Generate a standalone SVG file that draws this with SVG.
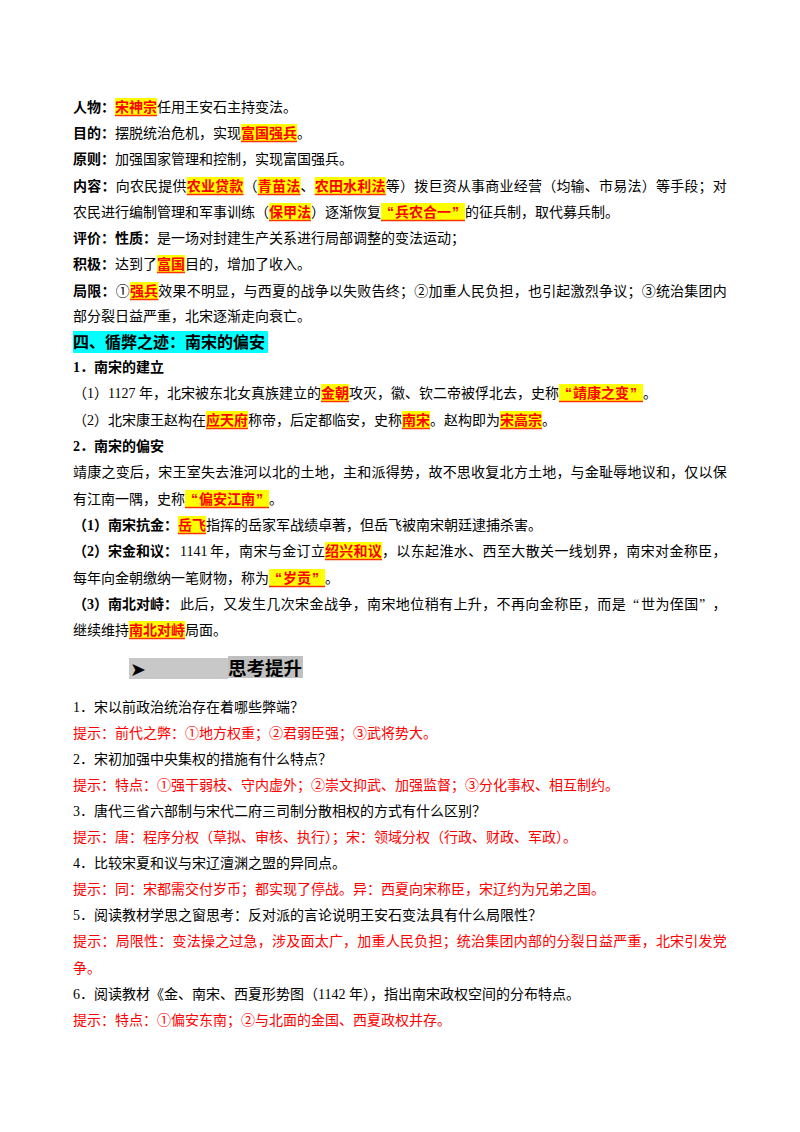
<svg xmlns="http://www.w3.org/2000/svg" width="800" height="1132" viewBox="0 0 800 1132">
<style>
text{font-family:"Liberation Serif","Noto Sans CJK SC",serif;font-size:14px;fill:#000}
.b{font-family:"Liberation Serif","Noto Sans CJK SC",sans-serif;font-weight:bold}
.h{fill:#FF0000;font-weight:bold;font-family:"Liberation Sans","Noto Sans CJK SC",sans-serif}
.r{fill:#FF0000}
.hb{fill:#FFFF00}
.ul{stroke:#FF3300;stroke-width:1.5}
.j1{letter-spacing:0.217px}
</style>
<rect width="800" height="1132" fill="#FFFFFF"/>

<g id="reform">
<!-- L1 -->
<rect class="hb" x="115" y="98" width="42" height="17"/><line class="ul" x1="115" y1="115.5" x2="157" y2="115.5"/>
<text y="112"><tspan class="b" x="73">人物：</tspan><tspan class="h" x="115">宋神宗</tspan><tspan x="157">任用王安石主持变法。</tspan></text>
<!-- L2 -->
<rect class="hb" x="241" y="124" width="56" height="17"/><line class="ul" x1="241" y1="141.5" x2="297" y2="141.5"/>
<text y="138"><tspan class="b" x="73">目的：</tspan><tspan x="115">摆脱统治危机，实现</tspan><tspan class="h" x="241">富国强兵</tspan><tspan x="297">。</tspan></text>
<!-- L3 -->
<text y="164"><tspan class="b" x="73">原则：</tspan><tspan x="115">加强国家管理和控制，实现富国强兵。</tspan></text>
<!-- L4 -->
<rect class="hb" x="186.7" y="177" width="56.9" height="17"/><line class="ul" x1="186.7" y1="194.5" x2="243.6" y2="194.5"/>
<rect class="hb" x="257.8" y="177" width="42.7" height="17"/><line class="ul" x1="257.8" y1="194.5" x2="300.5" y2="194.5"/>
<rect class="hb" x="314.7" y="177" width="71.1" height="17"/><line class="ul" x1="314.7" y1="194.5" x2="385.8" y2="194.5"/>
<text y="191" class="j1"><tspan class="b" x="73">内容：</tspan><tspan x="115.7">向农民提供</tspan><tspan class="h" x="186.7">农业贷款</tspan><tspan x="243.6">（</tspan><tspan class="h" x="257.8">青苗法</tspan><tspan x="300.5">、</tspan><tspan class="h" x="314.7">农田水利法</tspan><tspan x="385.8">等）拨巨资从事商业经营（均输、市易法）等手段；对</tspan></text>
<!-- L5 -->
<rect class="hb" x="269" y="203" width="42" height="17"/><line class="ul" x1="269" y1="220.5" x2="311" y2="220.5"/>
<rect class="hb" x="381" y="203" width="84" height="17"/><line class="ul" x1="381" y1="220.5" x2="465" y2="220.5"/>
<text y="217"><tspan x="73">农民进行编制管理和军事训练（</tspan><tspan class="h" x="269">保甲法</tspan><tspan x="311">）逐渐恢复</tspan><tspan class="h" x="387">“</tspan><tspan class="h" x="395">兵农合一</tspan><tspan class="h" x="452">”</tspan><tspan x="465">的征兵制，取代募兵制。</tspan></text>
<!-- L6 -->
<text y="243"><tspan class="b" x="73">评价：</tspan><tspan class="b" x="115">性质：</tspan><tspan x="157">是一场对封建生产关系进行局部调整的变法运动；</tspan></text>
<!-- L7 -->
<rect class="hb" x="157" y="255" width="28" height="17"/><line class="ul" x1="157" y1="272.5" x2="185" y2="272.5"/>
<text y="269"><tspan class="b" x="73">积极：</tspan><tspan x="115">达到了</tspan><tspan class="h" x="157">富国</tspan><tspan x="185">目的，增加了收入。</tspan></text>
<!-- L8 -->
<rect class="hb" x="129.9" y="282" width="28.4" height="17"/><line class="ul" x1="129.9" y1="299.5" x2="158.3" y2="299.5"/>
<text y="296" class="j1"><tspan class="b" x="73">局限：</tspan><tspan x="115.7">①</tspan><tspan class="h" x="129.9">强兵</tspan><tspan x="158.3">效果不明显，与西夏的战争以失败告终；②加重人民负担，也引起激烈争议；③统治集团内</tspan></text>
<!-- L9 -->
<text y="321" x="73">部分裂日益严重，北宋逐渐走向衰亡。</text>
</g>

<g id="section4">
<rect x="73" y="331" width="195" height="22" fill="#00FFFF"/>
<text class="b" x="73" y="348" style="font-size:16px">四、循弊之迹：南宋的偏安</text>
<text y="372" class="b"><tspan x="73">1</tspan><tspan x="80">．南宋的建立</tspan></text>
<!-- L12 -->
<rect class="hb" x="321" y="384" width="28" height="17"/><line class="ul" x1="321" y1="401.5" x2="349" y2="401.5"/>
<rect class="hb" x="559" y="384" width="84" height="17"/><line class="ul" x1="559" y1="401.5" x2="643" y2="401.5"/>
<text y="398"><tspan x="73">（</tspan><tspan x="87">1</tspan><tspan x="94">）</tspan><tspan x="108">1127</tspan><tspan x="139">年，北宋被东北女真族建立的</tspan><tspan class="h" x="321">金朝</tspan><tspan x="349">攻灭，徽、钦二帝被俘北去，史称</tspan><tspan class="h" x="565">“</tspan><tspan class="h" x="573">靖康之变</tspan><tspan class="h" x="630">”</tspan><tspan x="643">。</tspan></text>
<!-- L13 -->
<rect class="hb" x="206" y="411" width="42" height="17"/><line class="ul" x1="206" y1="428.5" x2="248" y2="428.5"/>
<rect class="hb" x="402" y="411" width="28" height="17"/><line class="ul" x1="402" y1="428.5" x2="430" y2="428.5"/>
<rect class="hb" x="500" y="411" width="42" height="17"/><line class="ul" x1="500" y1="428.5" x2="542" y2="428.5"/>
<text y="425"><tspan x="73">（</tspan><tspan x="87">2</tspan><tspan x="94">）</tspan><tspan x="108">北宋康王赵构在</tspan><tspan class="h" x="206">应天府</tspan><tspan x="248">称帝，后定都临安，史称</tspan><tspan class="h" x="402">南宋</tspan><tspan x="430">。赵构即为</tspan><tspan class="h" x="500">宋高宗</tspan><tspan x="542">。</tspan></text>
<text y="451" class="b"><tspan x="73">2</tspan><tspan x="80">．南宋的偏安</tspan></text>
<!-- L15 -->
<text y="477" x="73" class="j1">靖康之变后，宋王室失去淮河以北的土地，主和派得势，故不思收复北方土地，与金耻辱地议和，仅以保</text>
<!-- L16 -->
<rect class="hb" x="185" y="490" width="84" height="17"/><line class="ul" x1="185" y1="507.5" x2="269" y2="507.5"/>
<text y="504"><tspan x="73">有江南一隅，史称</tspan><tspan class="h" x="191">“</tspan><tspan class="h" x="199">偏安江南</tspan><tspan class="h" x="256">”</tspan><tspan x="269">。</tspan></text>
<!-- L17 -->
<rect class="hb" x="178" y="516" width="28" height="17"/><line class="ul" x1="178" y1="533.5" x2="206" y2="533.5"/>
<text y="530"><tspan class="b" x="73">（</tspan><tspan class="b" x="87">1</tspan><tspan class="b" x="94">）</tspan><tspan class="b" x="108">南宋抗金：</tspan><tspan class="h" x="178">岳飞</tspan><tspan x="206">指挥的岳家军战绩卓著，但岳飞被南宋朝廷逮捕杀害。</tspan></text>
<!-- L18 -->
<rect class="hb" x="325" y="542" width="57" height="17"/><line class="ul" x1="325" y1="559.5" x2="382" y2="559.5"/>
<text y="556"><tspan class="b" x="73">（</tspan><tspan class="b" x="87">2</tspan><tspan class="b" x="94">）</tspan><tspan class="b" x="108">宋金和议：</tspan><tspan x="180">1141</tspan><tspan x="210">年，</tspan><tspan x="239" style="letter-spacing:0.4px">南宋与金订立</tspan><tspan class="h" x="325" style="letter-spacing:0.25px">绍兴和议</tspan><tspan x="382" style="letter-spacing:0.375px">，以东起淮水、西至大散关一线划界，南宋对金称臣，</tspan></text>
<!-- L19 -->
<rect class="hb" x="269" y="569" width="56" height="17"/><line class="ul" x1="269" y1="586.5" x2="325" y2="586.5"/>
<text y="583"><tspan x="73">每年向金朝缴纳一笔财物，称为</tspan><tspan class="h" x="275">“</tspan><tspan class="h" x="283">岁贡</tspan><tspan class="h" x="312">”</tspan><tspan x="325">。</tspan></text>
<!-- L20 -->
<text y="609"><tspan class="b" x="73">（</tspan><tspan class="b" x="87">3</tspan><tspan class="b" x="94">）</tspan><tspan class="b" x="108">南北对峙：</tspan><tspan x="180" style="letter-spacing:0.39px">此后，又发生几次宋金战争，南宋地位稍有上升，不再向金称臣，而是</tspan><tspan x="633">“</tspan><tspan x="641" style="letter-spacing:0.39px">世为侄国</tspan><tspan x="699">”</tspan><tspan x="712.6">，</tspan></text>
<!-- L21 -->
<rect class="hb" x="129" y="621" width="56" height="17"/><line class="ul" x1="129" y1="638.5" x2="185" y2="638.5"/>
<text y="635"><tspan x="73">继续维持</tspan><tspan class="h" x="129">南北对峙</tspan><tspan x="185">局面。</tspan></text>
</g>

<g id="think">
<rect x="129" y="658" width="99" height="21" fill="#C8C8C8"/>
<rect x="228" y="656" width="75" height="22" fill="#C0C0C0"/>
<text x="130" y="676" style="font-family:'DejaVu Sans',sans-serif;font-size:19px">➤</text>
<text x="228" y="674.5" style="font-family:'Noto Sans CJK SC',sans-serif;font-size:18.5px;font-weight:bold">思考提升</text>

<text y="712"><tspan x="73">1</tspan><tspan x="80">．宋以前政治统治存在着哪些弊端？</tspan></text>
<text y="738" x="73" class="r">提示：前代之弊：①地方权重；②君弱臣强；③武将势大。</text>
<text y="764"><tspan x="73">2</tspan><tspan x="80">．宋初加强中央集权的措施有什么特点？</tspan></text>
<text y="790" x="73" class="r">提示：特点：①强干弱枝、守内虚外；②崇文抑武、加强监督；③分化事权、相互制约。</text>
<text y="816"><tspan x="73">3</tspan><tspan x="80">．唐代三省六部制与宋代二府三司制分散相权的方式有什么区别？</tspan></text>
<text y="842" x="73" class="r">提示：唐：程序分权（草拟、审核、执行）；宋：领域分权（行政、财政、军政）。</text>
<text y="868"><tspan x="73">4</tspan><tspan x="80">．比较宋夏和议与宋辽澶渊之盟的异同点。</tspan></text>
<text y="894" x="73" class="r">提示：同：宋都需交付岁币；都实现了停战。异：西夏向宋称臣，宋辽约为兄弟之国。</text>
<text y="920"><tspan x="73">5</tspan><tspan x="80">．阅读教材学思之窗思考：反对派的言论说明王安石变法具有什么局限性？</tspan></text>
<text y="946" x="73" class="r j1">提示：局限性：变法操之过急，涉及面太广，加重人民负担；统治集团内部的分裂日益严重，北宋引发党</text>
<text y="973" x="73" class="r">争。</text>
<text y="999"><tspan x="73">6</tspan><tspan x="80">．阅读教材《金、南宋、西夏形势图（</tspan><tspan x="318">1142</tspan><tspan x="349">年），指出南宋政权空间的分布特点。</tspan></text>
<text y="1025" x="73" class="r">提示：特点：①偏安东南；②与北面的金国、西夏政权并存。</text>
</g>
</svg>
